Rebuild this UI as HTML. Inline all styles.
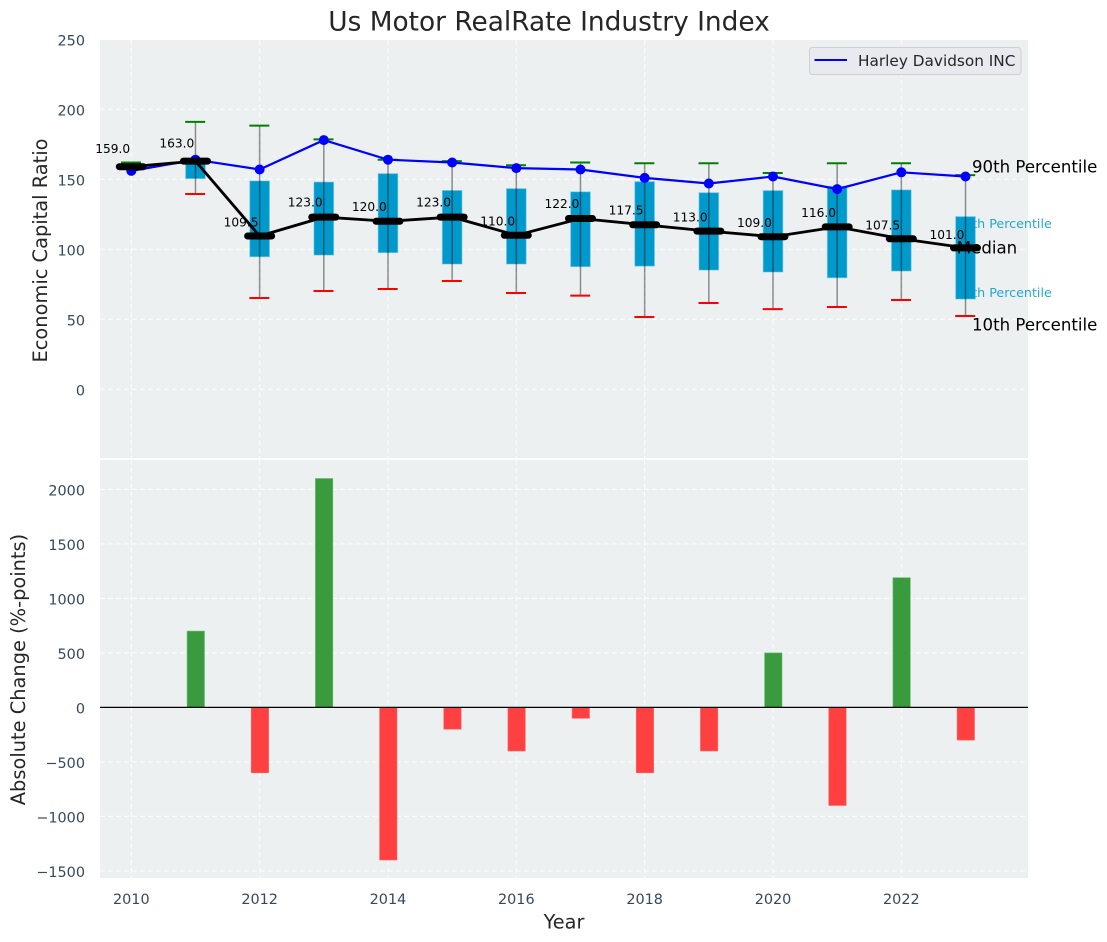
<!DOCTYPE html>
<html>
<head>
<meta charset="utf-8">
<title>Us Motor RealRate Industry Index</title>
<style>
html,body{margin:0;padding:0;background:#fff;width:1107px;height:942px;overflow:hidden}
svg{display:block}
text{font-family:"DejaVu Sans","Liberation Sans",sans-serif}
</style>
</head>
<body>
<svg id="chart" xmlns="http://www.w3.org/2000/svg" width="1107" height="942" viewBox="0 0 1107 942"></svg>
<script>
const years = [2010,2011,2012,2013,2014,2015,2016,2017,2018,2019,2020,2021,2022,2023];
const companyValues = [156,164,157,178,164,162,158,157,151,147,152,143,155,152];
const medianValues = [159,163,109.5,123,120,123,110,122,117.5,113,109,116,107.5,101];
const p90Values = [162,191,188.3,178.5,164,163,160,162,161.5,161.5,154.5,161.5,161.5,153];
const p75Values = [160,164,148.8,148,154,142,143.3,141,148.3,140.4,141.9,145,142.4,123.3];
const p25Values = [158,150.5,94.7,95.9,97.6,89.5,89.5,87.6,88,85.2,83.8,79.7,84.5,64.5];
const p10Values = [158,139.5,65.2,70.2,71.6,77.4,68.8,66.9,51.6,61.6,57.3,58.8,63.8,52.4];
const changeValues = [0,700,-600,2100,-1400,-200,-400,-100,-600,-400,500,-900,1190,-300];
const topTicks = [0,50,100,150,200,250];
const bottomTicks = [-1500,-1000,-500,0,500,1000,1500,2000];
const xTicks = [2010,2012,2014,2016,2018,2020,2022];

const svg = document.getElementById('chart');
const NS = 'http://www.w3.org/2000/svg';
const plotLeft = 100, plotRight = 1028, topA = 40, topB = 458, botA = 460, botB = 878;
const x = v => 131.3 + (v - 2010) * 64.17;
const yTop = v => 389.3 - v * 1.4;
const yBot = v => 707.4 - v * 0.109;
const AXIS = '#34495e';

function mk(tag, attrs, text) {
  const el = document.createElementNS(NS, tag);
  for (const k in attrs) el.setAttribute(k, attrs[k]);
  if (text !== undefined) el.textContent = text;
  svg.appendChild(el);
  return el;
}
let el;

el = mk('rect', {x:plotLeft, y:topA, width:plotRight-plotLeft, height:topB-topA, fill:'#ecf0f1'});


el = mk('rect', {x:plotLeft, y:botA, width:plotRight-plotLeft, height:botB-botA, fill:'#ecf0f1'});



const gridStyle = {stroke:'#ffffff', 'stroke-opacity':0.8, 'stroke-width':1.1, 'stroke-dasharray':'5,3', fill:'none'};
xTicks.forEach(t => {
  el = mk('line', {x1:x(t), x2:x(t), y1:topA, y2:topB, ...gridStyle});
  
  
  el = mk('line', {x1:x(t), x2:x(t), y1:botA, y2:botB, ...gridStyle});
  
  
  el = mk('text', {x:x(t), y:904, 'text-anchor':'middle', 'font-size':14.4, fill:AXIS}, String(t));
  
  
});
topTicks.forEach(t => {
  if (yTop(t) >= topA) {
    el = mk('line', {x1:plotLeft, x2:plotRight, y1:yTop(t), y2:yTop(t), ...gridStyle});
    
    
  }
  el = mk('text', {x:85, y:yTop(t)+6, 'text-anchor':'end', 'font-size':14.4, fill:AXIS}, String(t));
  
  
});
bottomTicks.forEach(t => {
  el = mk('line', {x1:plotLeft, x2:plotRight, y1:yBot(t), y2:yBot(t), ...gridStyle});
  
  
  el = mk('text', {x:85, y:yBot(t)+6, 'text-anchor':'end', 'font-size':14.4, fill:AXIS}, String(t).replace('-', '\u2212'));
  
  
});

const lastX = x(years[years.length - 1]);
const lastI = years.length - 1;
el = mk('text', {x:lastX-9.5, y:yTop(p75Values[lastI])+11.5, 'font-size':12.7, fill:'#0099cc', 'fill-opacity':0.85}, '75th Percentile');


el = mk('text', {x:lastX-9.5, y:yTop(p25Values[lastI])-1.8, 'font-size':12.7, fill:'#0099cc', 'fill-opacity':0.85}, '25th Percentile');



years.forEach((yr, i) => {
  const top = yTop(p75Values[i]), bot = yTop(p25Values[i]);
  el = mk('rect', {x:x(yr)-9.8, y:top, width:19.6, height:bot-top, fill:'#0099cc', stroke:'#5fbfe0', 'stroke-opacity':0.55, 'stroke-width':1});
  
  
});
years.forEach((yr, i) => {
  el = mk('line', {x1:x(yr), x2:x(yr), y1:yTop(p90Values[i]), y2:yTop(p10Values[i]), stroke:'#000', 'stroke-opacity':0.42, 'stroke-width':1.5});
  
  
  el = mk('line', {x1:x(yr)-10.3, x2:x(yr)+9.7, y1:yTop(p90Values[i]), y2:yTop(p90Values[i]), stroke:'#008000', 'stroke-width':2});
  
  
  el = mk('line', {x1:x(yr)-10.3, x2:x(yr)+9.7, y1:yTop(p10Values[i]), y2:yTop(p10Values[i]), stroke:'#ff0000', 'stroke-width':2});
  
  
});

el = mk('polyline', {points:years.map((yr,i)=>x(yr)+','+yTop(companyValues[i])).join(' '), fill:'none', stroke:'#0000ff', 'stroke-width':2.2});


years.forEach((yr, i) => {
  el = mk('circle', {cx:x(yr), cy:yTop(companyValues[i]), r:5, fill:'#0000ff'});
  
  
});

el = mk('polyline', {points:years.map((yr,i)=>x(yr)+','+yTop(medianValues[i])).join(' '), fill:'none', stroke:'#000', 'stroke-width':2.8});


years.forEach((yr, i) => {
  el = mk('line', {x1:x(yr)-12, x2:x(yr)+12, y1:yTop(medianValues[i]), y2:yTop(medianValues[i]), stroke:'#000', 'stroke-width':7, 'stroke-linecap':'round'});
  
  
});
years.forEach((yr, i) => {
  el = mk('text', {x:x(yr)-18.6, y:yTop(medianValues[i]*1.057)-5.2+4.4, 'text-anchor':'middle', 'font-size':12.2, fill:'#000'}, medianValues[i].toFixed(1));
  
  
});

el = mk('text', {x:lastX+6.5, y:yTop(p90Values[lastI])-2.6, 'font-size':16.6, fill:'#000'}, '90th Percentile');


el = mk('text', {x:lastX-8.7, y:yTop(medianValues[lastI])+5.5, 'font-size':16.6, fill:'#000'}, 'Median');


el = mk('text', {x:lastX+6.5, y:yTop(p10Values[lastI])+14.5, 'font-size':16.6, fill:'#000'}, '10th Percentile');



years.forEach((yr, i) => {
  const v = changeValues[i];
  if (v === 0) return;
  const y1 = Math.min(yBot(v), yBot(0)), h = Math.abs(yBot(v) - yBot(0));
  el = mk('rect', {x:x(yr)-8.4, y:y1, width:17.4, height:h, fill:v>0?'#3a9b3e':'#ff4040', stroke:v>0?'#66bb6a':'#ff6666', 'stroke-width':0.6});
  
  
});
el = mk('line', {x1:plotLeft, x2:plotRight, y1:yBot(0), y2:yBot(0), stroke:'#000', 'stroke-width':1.2});



el = mk('rect', {x:809.5, y:47.5, width:211.5, height:27, rx:3, fill:'#e9eaef', stroke:'#cfcfcf', 'stroke-width':1});


el = mk('line', {x1:814.5, x2:847, y1:60, y2:60, stroke:'#0000ff', 'stroke-width':2});


el = mk('text', {x:858, y:66, 'font-size':15.3, fill:'#262626'}, 'Harley Davidson INC');



el = mk('text', {x:549, y:30.5, 'text-anchor':'middle', 'font-size':26.4, fill:'#262626'}, 'Us Motor RealRate Industry Index');


el = mk('text', {x:564, y:928.5, 'text-anchor':'middle', 'font-size':19.3, fill:'#262626'}, 'Year');


el = mk('text', {transform:'translate(47,250.5) rotate(-90)', 'text-anchor':'middle', 'font-size':19.4, fill:'#262626'}, 'Economic Capital Ratio');


el = mk('text', {transform:'translate(25,669.5) rotate(-90)', 'text-anchor':'middle', 'font-size':19.4, fill:'#262626'}, 'Absolute Change (%-points)');


</script>
</body>
</html>
